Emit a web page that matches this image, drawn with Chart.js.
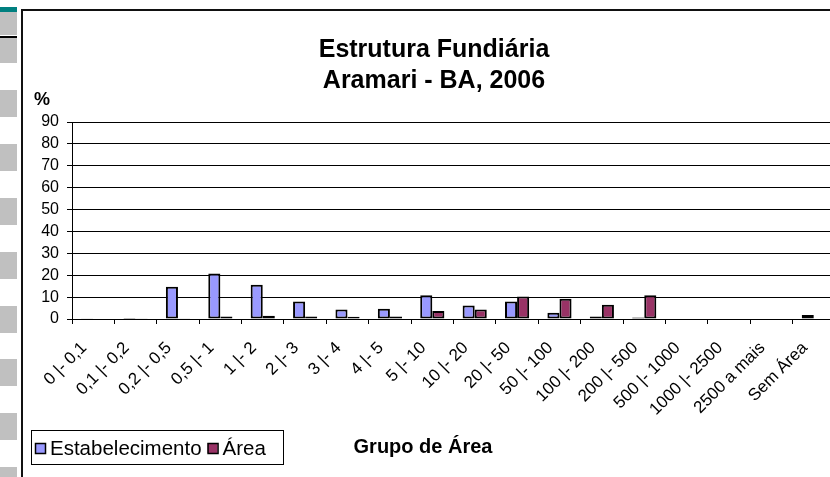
<!DOCTYPE html>
<html>
<head>
<meta charset="utf-8">
<script src="https://cdn.jsdelivr.net/npm/chart.js@4/dist/chart.umd.min.js"></script>
<style>
html,body{margin:0;padding:0;background:#fff;overflow:hidden;}
#wrap{position:relative;width:830px;height:477px;overflow:hidden;}
#c{position:absolute;left:0;top:0;}
</style>
</head>
<body>
<div id="wrap"><canvas id="c" width="860" height="477"></canvas></div>
<script>
const categories = ['0 |- 0,1','0,1 |- 0,2','0,2 |- 0,5','0,5 |- 1','1 |- 2','2 |- 3','3 |- 4','4 |- 5','5 |- 10','10 |- 20','20 |- 50','50 |- 100','100 |- 200','200 |- 500','500 |- 1000','1000 |- 2500','2500 a mais','Sem Área'];
const estabelecimento = [0.1, 0.4, 14.7, 20.8, 15.6, 8.0, 4.3, 4.7, 10.9, 6.2, 8.0, 2.9, 1.1, 0.7, 0.2, 0, 0.2, 1.8];
const area = [0, 0.1, 0.3, 1.1, 1.5, 1.1, 1.0, 1.1, 3.6, 4.3, 10.3, 9.3, 6.5, 10.8, 0, 0, 0, 0];
const seriesNames = ['Estabelecimento', 'Área'];
const titleLines = ['Estrutura Fundiária', 'Aramari - BA, 2006'];
const yTitle = '%';
const xTitle = 'Grupo de Área';
const yTicks = [0,10,20,30,40,50,60,70,80,90];

const FONT = '"Liberation Sans", Arial, sans-serif';
const colors = ['#9999FF', '#993366'];

const decor = {
  id: 'decor',
  beforeDraw(chart) {
    const ctx = chart.ctx;
    ctx.save();
    ctx.fillStyle = '#fff';
    ctx.fillRect(0, 0, chart.width, chart.height);
    // left strip
    ctx.fillStyle = '#008080';
    ctx.fillRect(0, 7, 17, 5);
    ctx.fillStyle = '#C0C0C0';
    [[12,35],[38,63],[90,117],[144,171],[198,225],[252,279],[306,333],[359,386],[413,440],[467,477]].forEach(r => ctx.fillRect(0, r[0], 17, r[1]-r[0]));
    ctx.fillStyle = '#000';
    ctx.fillRect(0, 36, 17, 2);
    ctx.restore();
  },
  afterDraw(chart) {
    const ctx = chart.ctx;
    ctx.save();
    // outer border
    ctx.strokeStyle = '#111';
    ctx.lineWidth = 2;
    ctx.beginPath();
    ctx.moveTo(22, 477);
    ctx.lineTo(22, 10);
    ctx.lineTo(860, 10);
    ctx.stroke();
    // title
    ctx.fillStyle = '#000';
    ctx.textAlign = 'center';
    ctx.textBaseline = 'alphabetic';
    ctx.font = 'bold 25px ' + FONT;
    ctx.fillText(titleLines[0], 434, 57);
    ctx.fillText(titleLines[1], 434, 88);
    // y title
    ctx.textAlign = 'left';
    ctx.font = 'bold 18px ' + FONT;
    ctx.fillText(yTitle, 34, 105);
    // x title
    ctx.textAlign = 'center';
    ctx.font = 'bold 20px ' + FONT;
    ctx.fillText(xTitle, 423, 453);
    // legend
    ctx.lineWidth = 1;
    ctx.strokeStyle = '#000';
    ctx.strokeRect(31.5, 430.5, 252, 34);
    ctx.font = '20.5px ' + FONT;
    ctx.textAlign = 'left';
    let x = 35;
    seriesNames.forEach((n, i) => {
      ctx.fillStyle = colors[i];
      ctx.fillRect(x, 443, 10, 10);
      ctx.strokeStyle = '#000';
      ctx.lineWidth = 1.5;
      ctx.strokeRect(x + 0.5, 443.5, 10, 10);
      ctx.fillStyle = '#000';
      ctx.fillText(n, x + 15, 455);
      x += 15 + ctx.measureText(n).width + 6;
    });
    ctx.restore();
  }
};

new Chart(document.getElementById('c'), {
  type: 'bar',
  data: {
    labels: categories,
    datasets: [
      { label: seriesNames[0], data: estabelecimento, backgroundColor: colors[0], borderColor: '#000', borderWidth: 2, borderSkipped: false },
      { label: seriesNames[1], data: area, backgroundColor: colors[1], borderColor: '#000', borderWidth: 2, borderSkipped: false }
    ]
  },
  options: {
    responsive: false,
    animation: false,
    events: [],
    categoryPercentage: 0.57,
    barPercentage: 1.0,
    layout: { padding: { top: 122, right: 25, left: 0, bottom: 0 } },
    plugins: { legend: { display: false }, title: { display: false }, tooltip: { enabled: false } },
    scales: {
      x: {
        grid: { display: true, drawOnChartArea: false, drawTicks: true, tickLength: 5, color: '#000', offset: true },
        border: { display: true, color: '#000', width: 1 },
        ticks: { autoSkip: false, maxRotation: 45, minRotation: 45, color: '#000', font: { family: FONT, size: 17 }, padding: 14, labelOffset: -9 },
        afterFit(scale) { scale.height = 158; }
      },
      y: {
        min: 0, max: 90,
        afterBuildTicks(scale) { scale.ticks = yTicks.map(v => ({ value: v })); },
        grid: { color: '#000', lineWidth: 1, drawTicks: true, tickLength: 5 },
        border: { display: true, color: '#000', width: 1 },
        ticks: { autoSkip: false, color: '#000', font: { family: FONT, size: 16 }, padding: 8 },
        afterFit(scale) { scale.width = 72; }
      }
    }
  },
  plugins: [decor]
});
</script>
</body>
</html>
